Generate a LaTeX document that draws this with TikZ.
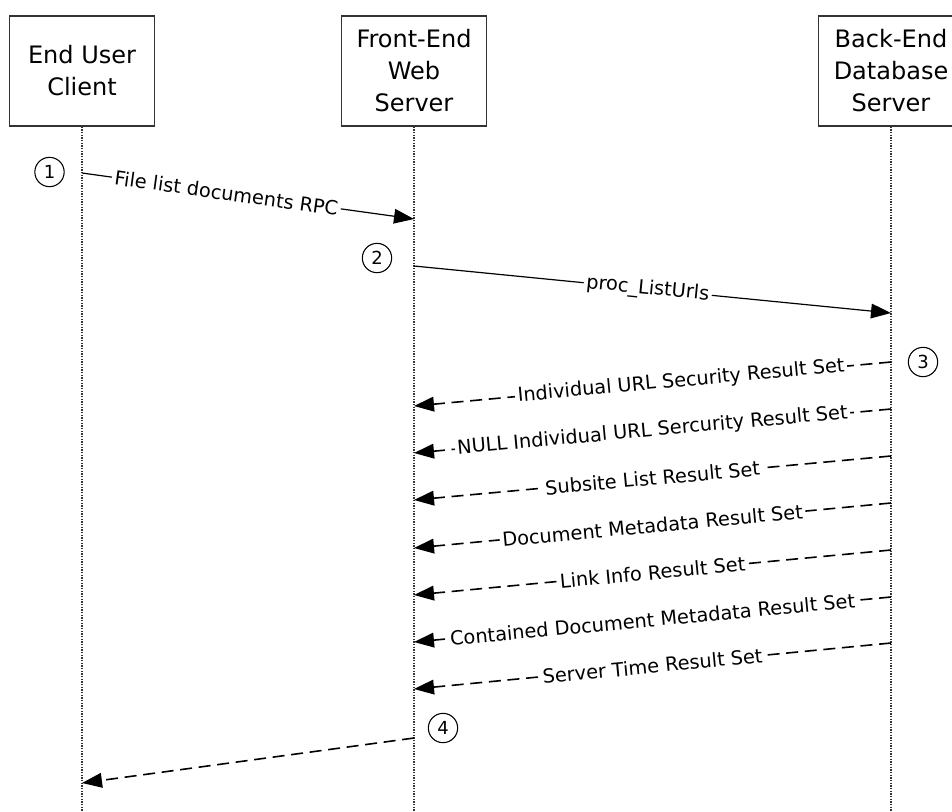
\documentclass[tikz,border=0pt]{standalone}
\usepackage{fontspec}
\setmainfont{DejaVu Sans}
\usetikzlibrary{arrows.meta}

\tikzset{
  actor/.style={draw=black!80,line width=1pt,fill=white,minimum width=108.75pt,minimum height=82.5pt,align=center,font=\fontsize{18}{24}\selectfont},
  lifeline/.style={black!80,line width=0.8pt,dash pattern=on 1pt off 1pt},
  call/.style={line width=0.9pt,-{Triangle[length=15pt,width=11pt]}},
  reply/.style={call,line width=1.2pt,dash pattern=on 9pt off 5pt},
  msg/.style={fill=white,inner sep=2pt,sloped,font=\fontsize{14.5}{17}\selectfont},
  stepno/.style={draw,circle,minimum size=22pt,inner sep=0pt,line width=0.8pt,font=\fontsize{13.5}{16}\selectfont}
}

\begin{document}
\begin{tikzpicture}[x=0.75pt,y=-0.75pt]
                \useasboundingbox (0,0) rectangle (952,811);
                \node[actor] (client) at (82,71) {End User\\Client};
                \node[actor] (web) at (414,71) {Front-End\\Web\\Server};
                \node[actor] (db) at (891,71) {Back-End\\Database\\Server};
                \coordinate (bottom) at (0,811);
                \draw[lifeline] (client.south) -- (client.south |- bottom);
                \draw[lifeline] (web.south) -- (web.south |- bottom);
                \draw[lifeline] (db.south) -- (db.south |- bottom);
                % message end points
                \coordinate (c1) at (82,173);   \coordinate (w1) at (414,219);
                \coordinate (w2) at (414,266);  \coordinate (d2) at (891,313);
                \coordinate (d3) at (891,362);  \coordinate (w3) at (414,406);
                \coordinate (d4) at (891,409);  \coordinate (w4) at (414,453);
                \coordinate (d5) at (891,456);  \coordinate (w5) at (414,500);
                \coordinate (d6) at (891,503);  \coordinate (w6) at (414,548);
                \coordinate (d7) at (891,550);  \coordinate (w7) at (414,595);
                \coordinate (d8) at (891,597);  \coordinate (w8) at (414,642);
                \coordinate (d9) at (891,643);  \coordinate (w9) at (414,689);
                \coordinate (w10) at (414,738); \coordinate (c10) at (82,783);
                \draw[call] (c1) -- node[msg,pos=0.435] {File list documents RPC} (w1);
                \draw[call] (w2) -- node[msg,pos=0.49] {proc\_ListUrls} (d2);
                \draw[reply] (d3) -- node[msg,pos=0.44] {Individual URL Security Result Set} (w3);
                \draw[reply] (d4) -- node[msg] {NULL Individual URL Sercurity Result Set} (w4);
                \draw[reply] (d5) -- node[msg] {Subsite List Result Set} (w5);
                \draw[reply] (d6) -- node[msg] {Document Metadata Result Set} (w6);
                \draw[reply] (d7) -- node[msg] {Link Info Result Set} (w7);
                \draw[reply] (d8) -- node[msg] {Contained Document Metadata Result Set} (w8);
                \draw[reply] (d9) -- node[msg] {Server Time Result Set} (w9);
                \draw[reply] (w10) -- (c10);
                % step numbers
                \node[stepno] (s1) at (49.5,172) {1};
                \node[stepno] (s2) at (377,258) {2};
                \node[stepno] (s3) at (923,362) {3};
                \node[stepno] (s4) at (443,728) {4};
            \end{tikzpicture}
\end{document}
